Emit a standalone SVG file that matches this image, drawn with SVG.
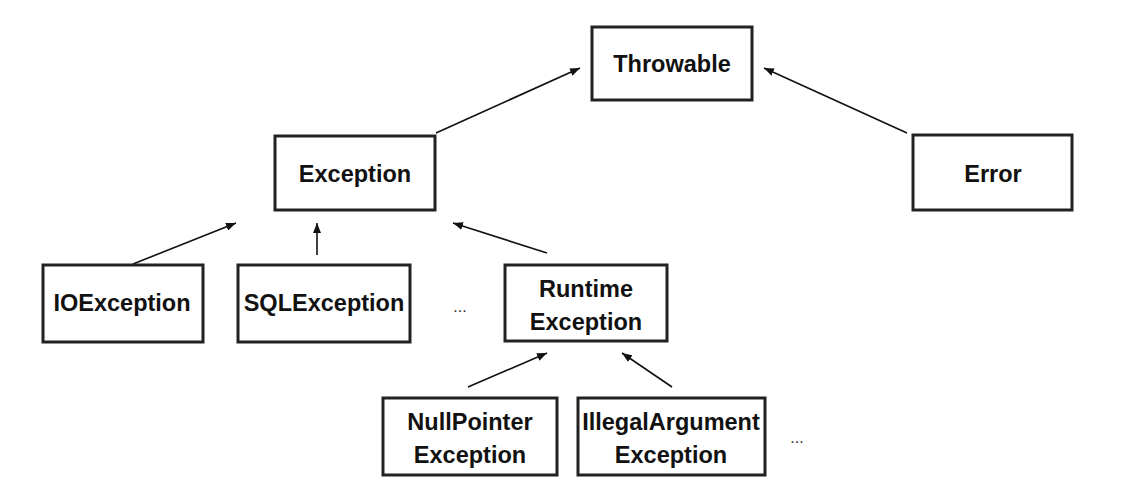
<svg xmlns="http://www.w3.org/2000/svg" width="1123" height="503" viewBox="0 0 1123 503">
<defs>
<marker id="ah" viewBox="0 0 10 8" refX="10" refY="4" markerWidth="10" markerHeight="8" markerUnits="userSpaceOnUse" orient="auto">
<path d="M0,0 L10,4 L0,8 z" fill="#111"/>
</marker>
</defs>
<style>
.box{fill:#fff;stroke:#222;stroke-width:3}
.t{font-family:"Liberation Sans",Arial,sans-serif;font-weight:bold;font-size:23.5px;fill:#111;text-anchor:middle}
.d{font-family:"Liberation Sans",Arial,sans-serif;font-size:16px;fill:#333;text-anchor:middle}
.c line{stroke:#111;stroke-width:1.6;marker-end:url(#ah)}
</style>
<rect width="1123" height="503" fill="#fff"/>
<g class="c" id="connectors">
<line x1="436" y1="133" x2="580" y2="68"/>
<line x1="907" y1="133" x2="764" y2="68"/>
<line x1="133" y1="264" x2="236" y2="223"/>
<line x1="317" y1="255" x2="317" y2="223"/>
<line x1="547" y1="253" x2="453" y2="223"/>
<line x1="468" y1="387" x2="547" y2="353"/>
<line x1="672" y1="387" x2="622" y2="353"/>
</g>
<g id="throwable"><rect class="box" x="592" y="27" width="160" height="73"/><text class="t" x="672" y="72">Throwable</text></g>
<g id="exception"><rect class="box" x="275" y="136" width="160" height="74"/><text class="t" x="355" y="182">Exception</text></g>
<g id="error"><rect class="box" x="913" y="135" width="159" height="75"/><text class="t" x="993" y="182">Error</text></g>
<g id="ioexception"><rect class="box" x="43" y="265" width="160" height="77"/><text class="t" x="122" y="311">IOException</text></g>
<g id="sqlexception"><rect class="box" x="238" y="265" width="172" height="77"/><text class="t" x="324" y="311">SQLException</text></g>
<g id="runtime"><rect class="box" x="505" y="265" width="162" height="76"/><text class="t" x="586" y="297">Runtime</text><text class="t" x="586" y="330">Exception</text></g>
<g id="nullpointer"><rect class="box" x="383" y="398" width="174" height="77"/><text class="t" x="470" y="430">NullPointer</text><text class="t" x="470" y="463">Exception</text></g>
<g id="illegalargument"><rect class="box" x="578" y="398" width="187" height="77"/><text class="t" x="671" y="430">IllegalArgument</text><text class="t" x="671" y="463">Exception</text></g>
<text class="d" x="460" y="312">...</text>
<text class="d" x="797" y="443">...</text>
</svg>
